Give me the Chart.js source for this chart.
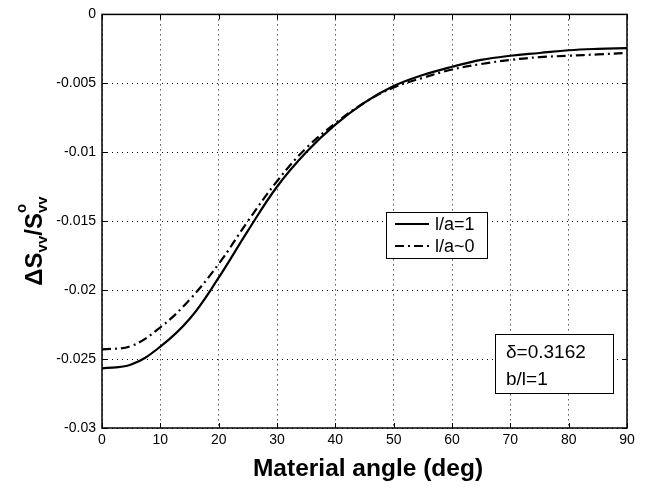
<!DOCTYPE html>
<html>
<head>
<meta charset="utf-8">
<script src="https://cdn.jsdelivr.net/npm/chart.js@4"></script>
<style>
  html, body { margin: 0; padding: 0; background: #fff; }
  #wrap { width: 648px; height: 488px; }
</style>
</head>
<body>
<div id="wrap"><canvas id="sensChart" width="648" height="488"></canvas></div>
<script>
// material angle in degrees
const angles = [0, 5, 10, 15, 20, 25, 30, 35, 40, 45, 50, 55, 60, 65, 70, 75, 80, 85, 90];
// relative change of S_vv for l/a = 1
const solidVals = [-0.02567, -0.0254, -0.0241, -0.0221, -0.0191, -0.0157, -0.0125, -0.0100, -0.0080,
  -0.0064, -0.0052, -0.0044, -0.0038, -0.0033, -0.0030, -0.0028, -0.0026, -0.0025, -0.00245];
// relative change of S_vv for l/a ~ 0
const dashVals = [-0.0243, -0.02405, -0.0227, -0.0207, -0.0181, -0.0150, -0.0121, -0.0097, -0.0079,
  -0.0064, -0.0053, -0.0046, -0.0040, -0.0036, -0.0033, -0.0031, -0.0030, -0.0029, -0.0028];
const xTicks = [0, 10, 20, 30, 40, 50, 60, 70, 80, 90];
const yTicks = [0, -0.005, -0.01, -0.015, -0.02, -0.025, -0.03];
const seriesNames = ['l/a=1', 'l/a~0'];
const noteLines = ['\u03b4=0.3162', 'b/l=1'];

const FONT = '"Liberation Sans", Arial, Helvetica, sans-serif';
const DASH_DOT = [9, 4, 2, 4];

// box, inner tick marks, axis titles, legend and note
const decorations = {
  id: 'decorations',
  afterDraw(chart) {
    const { ctx, chartArea: a, scales: { x, y } } = chart;
    ctx.save();
    ctx.strokeStyle = '#000';
    ctx.lineWidth = 1;
    ctx.setLineDash([]);
    ctx.beginPath();
    xTicks.forEach(v => {
      const px = Math.round(x.getPixelForValue(v)) + 0.5;
      ctx.moveTo(px, a.bottom); ctx.lineTo(px, a.bottom - 5);
      ctx.moveTo(px, a.top); ctx.lineTo(px, a.top + 5);
    });
    yTicks.forEach(v => {
      const py = Math.round(y.getPixelForValue(v)) + 0.5;
      ctx.moveTo(a.left, py); ctx.lineTo(a.left + 5, py);
      ctx.moveTo(a.right, py); ctx.lineTo(a.right - 5, py);
    });
    ctx.stroke();
    ctx.lineWidth = 1.5;
    ctx.strokeRect(a.left, a.top, a.right - a.left, a.bottom - a.top);

    // x title
    ctx.fillStyle = '#000';
    ctx.font = 'bold 24.5px ' + FONT;
    ctx.textAlign = 'center';
    ctx.textBaseline = 'alphabetic';
    ctx.fillText('Material angle (deg)', 368, 476);

    // y title with sub/superscripts
    ctx.save();
    ctx.translate(42, 241);
    ctx.rotate(-Math.PI / 2);
    const big = 'bold 24px ' + FONT, small = 'bold 15px ' + FONT;
    const parts = [
      { t: '\u0394S', f: big, dy: 0 },
      { t: 'vv', f: small, dy: 5 },
      { t: '/S', f: big, dy: 0 },
      { t: 'o', f: small, dy: -16, over: true },
      { t: 'vv', f: small, dy: 5 }
    ];
    let total = 0;
    parts.forEach(p => { ctx.font = p.f; p.w = ctx.measureText(p.t).width; if (!p.over) total += p.w; });
    let cx = -total / 2;
    ctx.textAlign = 'left';
    parts.forEach(p => {
      ctx.font = p.f;
      ctx.fillText(p.t, cx, p.dy);
      if (!p.over) cx += p.w;
    });
    ctx.restore();

    // legend box
    const lx = 386, ly = 212, lw = 101, lh = 46;
    ctx.fillStyle = '#fff';
    ctx.fillRect(lx, ly, lw, lh);
    ctx.lineWidth = 1;
    ctx.strokeStyle = '#000';
    ctx.strokeRect(lx + 0.5, ly + 0.5, lw, lh);
    chart.data.datasets.forEach((ds, i) => {
      const ry = ly + 12 + i * 22;
      ctx.lineWidth = ds.borderWidth;
      ctx.setLineDash(ds.borderDash || []);
      ctx.beginPath();
      ctx.moveTo(lx + 9, ry);
      ctx.lineTo(lx + 43, ry);
      ctx.stroke();
      ctx.setLineDash([]);
      ctx.fillStyle = '#000';
      ctx.font = '18px ' + FONT;
      ctx.textAlign = 'left';
      ctx.textBaseline = 'middle';
      ctx.fillText(ds.label, lx + 49, ry + 1);
    });

    // parameter note
    const nx = 495, ny = 334, nw = 118, nh = 59;
    ctx.fillStyle = '#fff';
    ctx.fillRect(nx, ny, nw, nh);
    ctx.lineWidth = 1;
    ctx.strokeRect(nx + 0.5, ny + 0.5, nw, nh);
    ctx.fillStyle = '#000';
    ctx.font = '19px ' + FONT;
    ctx.textBaseline = 'alphabetic';
    noteLines.forEach((t, i) => ctx.fillText(t, nx + 11, ny + 24 + i * 27));
    ctx.restore();
  }
};

const gridStyle = { color: '#000', lineWidth: 1, drawTicks: false };
const borderStyle = { display: false, dash: [1, 4] };

new Chart(document.getElementById('sensChart'), {
  type: 'line',
  data: {
    labels: angles,
    datasets: [
      {
        label: seriesNames[0],
        data: angles.map((a, i) => ({ x: a, y: solidVals[i] })),
        borderColor: '#000',
        borderWidth: 2.2,
        pointRadius: 0,
        tension: 0.4
      },
      {
        label: seriesNames[1],
        data: angles.map((a, i) => ({ x: a, y: dashVals[i] })),
        borderColor: '#000',
        borderWidth: 2.2,
        borderDash: DASH_DOT,
        pointRadius: 0,
        tension: 0.4
      }
    ]
  },
  options: {
    responsive: false,
    animation: false,
    layout: { padding: { left: 0, top: 14, right: 21, bottom: 0 } },
    plugins: { legend: { display: false }, tooltip: { enabled: false } },
    scales: {
      x: {
        type: 'linear',
        min: 0, max: 90,
        afterFit: s => { s.height = 60; },
        afterBuildTicks: s => { s.ticks = xTicks.map(v => ({ value: v })); },
        border: borderStyle,
        grid: gridStyle,
        ticks: { color: '#000', font: { family: FONT, size: 14 }, padding: 4, maxRotation: 0 }
      },
      y: {
        min: -0.03, max: 0,
        afterFit: s => { s.width = 102; },
        afterBuildTicks: s => { s.ticks = yTicks.map(v => ({ value: v })); },
        border: borderStyle,
        grid: gridStyle,
        ticks: {
          color: '#000', font: { family: FONT, size: 14 }, padding: 6,
          callback: v => String(v)
        }
      }
    }
  },
  plugins: [decorations]
});
</script>
</body>
</html>
